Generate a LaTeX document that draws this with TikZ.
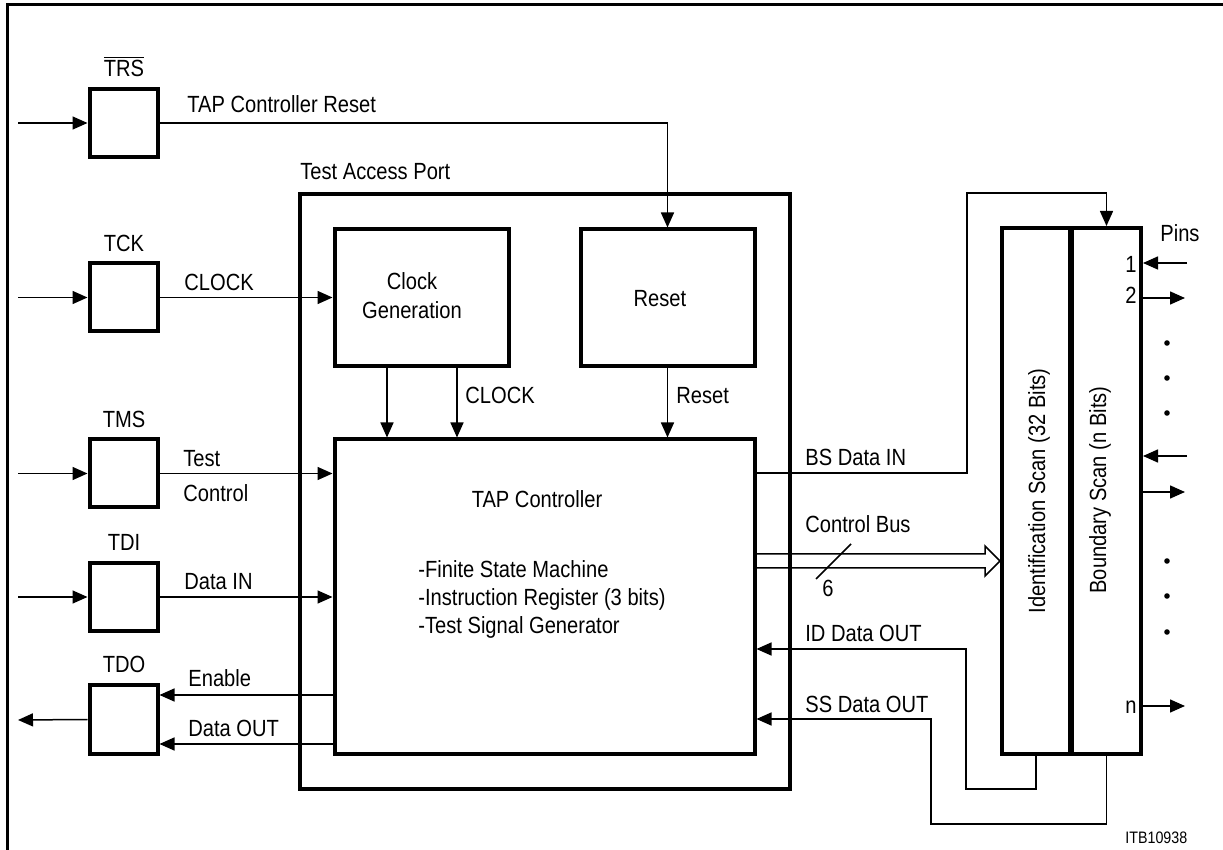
\documentclass[tikz,border=0pt]{standalone}
\usepackage{fontspec}
\setmainfont{Liberation Sans}[FakeStretch=0.86]
\usetikzlibrary{arrows.meta}
\begin{document}
\begin{tikzpicture}[x=0.5pt,y=-0.5pt,
  font=\fontsize{11.7pt}{14.5pt}\selectfont,
  bx/.style={draw, line width=2pt, inner sep=0pt},
  sig/.style={line width=0.75pt, -{Triangle[length=7.5pt,width=6.5pt]}},
  wire/.style={line width=0.75pt},
  lbl/.style={inner sep=0pt, anchor=base west},
  clbl/.style={inner sep=0pt, anchor=base},
  rlbl/.style={inner sep=0pt, anchor=base east},
  pdot/.style={fill=black, circle, inner sep=0pt, minimum size=2.8pt}]
\useasboundingbox (0,0) rectangle (1223,850);
% frame (left and top only)
\draw[line width=1.5pt] (7,850) -- (7,5) -- (1223,5);

% input/output buffer boxes
\node[bx, minimum width=34pt, minimum height=34pt] (trs) at (123.5,123) {};
\node[bx, minimum width=34pt, minimum height=34pt] (tck) at (123.5,297.5) {};
\node[bx, minimum width=34pt, minimum height=34pt] (tms) at (123.5,473.5) {};
\node[bx, minimum width=34pt, minimum height=34pt] (tdi) at (123.5,597) {};
\node[bx, minimum width=34pt, minimum height=34pt] (tdo) at (123.5,719.5) {};

% main blocks
\node[bx, minimum width=245pt, minimum height=297pt] (tap) at (544.5,491.5) {};
\node[bx, minimum width=87pt, minimum height=68.5pt] (clk) at (421.5,298) {};
\node[bx, minimum width=87pt, minimum height=68.5pt] (rst) at (667.5,298) {};
\node[bx, minimum width=210pt, minimum height=157pt] (ctrl) at (544.5,596.5) {};
\node[bx, minimum width=34pt, minimum height=263pt] (id) at (1036,491) {};
\node[bx, minimum width=34.5pt, minimum height=263pt] (bs) at (1106.5,491) {};

% labels of boxes
\node[clbl] (ltrs) at (124,77) {$\overline{\hbox{TRS}}$};
\node[clbl] (ltck) at (124,252) {TCK};
\node[clbl] (ltms) at (124,428) {TMS};
\node[clbl] (ltdi) at (124,551) {TDI};
\node[clbl] (ltdo) at (124,673) {TDO};
\node[lbl] (ltap) at (300,180) {Test Access Port};
\node[clbl] (lclk1) at (412,290) {Clock};
\node[clbl] (lclk2) at (412,319) {Generation};
\node[clbl] (lrst) at (660,307) {Reset};
\node[clbl] (lctrl) at (537,508) {TAP Controller};
\node[lbl] (li1) at (418,578) {-Finite State Machine};
\node[lbl] (li2) at (418,606) {-Instruction Register (3 bits)};
\node[lbl] (li3) at (418,634) {-Test Signal Generator};
\node[clbl, rotate=90] (lid) at (1045,491) {Identification Scan (32 Bits)};
\node[clbl, rotate=90] (lbs) at (1106,490) {Boundary Scan (n Bits)};

% free ends
\coordinate (i1) at (18,123);
\coordinate (i2) at (18,297.5);
\coordinate (i3) at (18,473.5);
\coordinate (i4) at (18,597);
\coordinate (o1) at (18,720);

% inputs
\draw[sig] (i1) -- (trs.west);
\draw[sig] (i2) -- (tck.west);
\draw[sig] (i3) -- (tms.west);
\draw[sig] (i4) -- (tdi.west);
\draw[sig] (tdo.west) -- (o1);

% TAP controller reset
\draw[sig] (trs.east) -| (rst.north);
\node[lbl] (lreset) at (187,113) {TAP Controller Reset};
% CLOCK
\draw[sig] (tck.east) -- (tck.east -| clk.west);
\node[lbl] (lclock) at (184,291) {CLOCK};
% clock generation to controller
\coordinate (cx1) at (387,0);
\coordinate (cx2) at (457,0);
\draw[sig] (clk.south -| cx1) -- (ctrl.north -| cx1);
\draw[sig] (clk.south -| cx2) -- (ctrl.north -| cx2);
\node[lbl] (lclock2) at (465,404) {CLOCK};
\draw[sig] (rst.south) -- (ctrl.north -| rst.south);
\node[lbl] (lreset2) at (676,404) {Reset};
% TMS / TDI
\draw[sig] (tms.east) -- (tms.east -| ctrl.west);
\node[lbl] (ltest) at (183,467) {Test};
\node[lbl] (lcontrol) at (183,502) {Control};
\draw[sig] (tdi.east) -- (tdi.east -| ctrl.west);
\node[lbl] (ldin) at (184,589) {Data IN};
% TDO
\coordinate (ye) at (0,695);
\coordinate (yd) at (0,744);
\draw[sig] (ctrl.west |- ye) -- (tdo.east |- ye);
\node[lbl] (lenable) at (188,687) {Enable};
\draw[sig] (ctrl.west |- yd) -- (tdo.east |- yd);
\node[lbl] (ldout) at (188,737) {Data OUT};

% BS Data IN
\coordinate (ybs) at (0,473);
\coordinate (bs1) at (967,473);
\coordinate (bs2) at (967,193);
\draw[sig] (ctrl.east |- ybs) -- (bs1) -- (bs2) -| (bs.north);
\node[lbl] (lbsin) at (805,466) {BS Data IN};

% Control bus
\coordinate (cb1) at (0,554);
\coordinate (cb2) at (0,568);
\coordinate (cbtip) at (0,561);
\draw[wire, line join=miter] (ctrl.east |- cb1) -- (985,554) -- (985,546) -- (id.west |- cbtip)
  -- (985,576) -- (985,568) -- (ctrl.east |- cb2);
\coordinate (sl1) at (816,579);
\coordinate (sl2) at (851,544);
\draw[wire] (sl1) -- (sl2);
\node[lbl] (lcb) at (805,533) {Control Bus};
\node[lbl] (l6) at (822,597) {6};

% ID Data OUT
\coordinate (yid) at (0,649);
\coordinate (id1) at (966,789);
\draw[sig] (id.south) |- (id1) |- (ctrl.east |- yid);
\node[lbl] (lidout) at (805,642) {ID Data OUT};

% SS Data OUT
\coordinate (yss) at (0,719);
\coordinate (ss1) at (931,824);
\draw[sig] (bs.south) |- (ss1) |- (ctrl.east |- yss);
\node[lbl] (lssout) at (805,712) {SS Data OUT};

% Pins
\node[lbl] (lpins) at (1160,242) {Pins};
\coordinate (p1) at (1187,263);
\coordinate (p2) at (1185,298);
\coordinate (p3) at (1187,456);
\coordinate (p4) at (1185,492);
\coordinate (p5) at (1185,706);
\draw[sig] (p1) -- (bs.east |- p1);
\draw[sig] (bs.east |- p2) -- (p2);
\draw[sig] (p3) -- (bs.east |- p3);
\draw[sig] (bs.east |- p4) -- (p4);
\draw[sig] (bs.east |- p5) -- (p5);
\node[rlbl] (l1) at (1137,273) {1};
\node[rlbl] (l2) at (1137,304) {2};
\node[rlbl] (ln) at (1137,713) {n};
\node[pdot] (d1) at (1167,343) {};
\node[pdot] (d2) at (1167,378) {};
\node[pdot] (d3) at (1167,413) {};
\node[pdot] (d4) at (1167,561) {};
\node[pdot] (d5) at (1167,596) {};
\node[pdot] (d6) at (1167,632) {};

\node[lbl, font=\fontsize{8.3pt}{10pt}\selectfont] (litb) at (1125,843) {ITB10938};
\end{tikzpicture}
\end{document}
